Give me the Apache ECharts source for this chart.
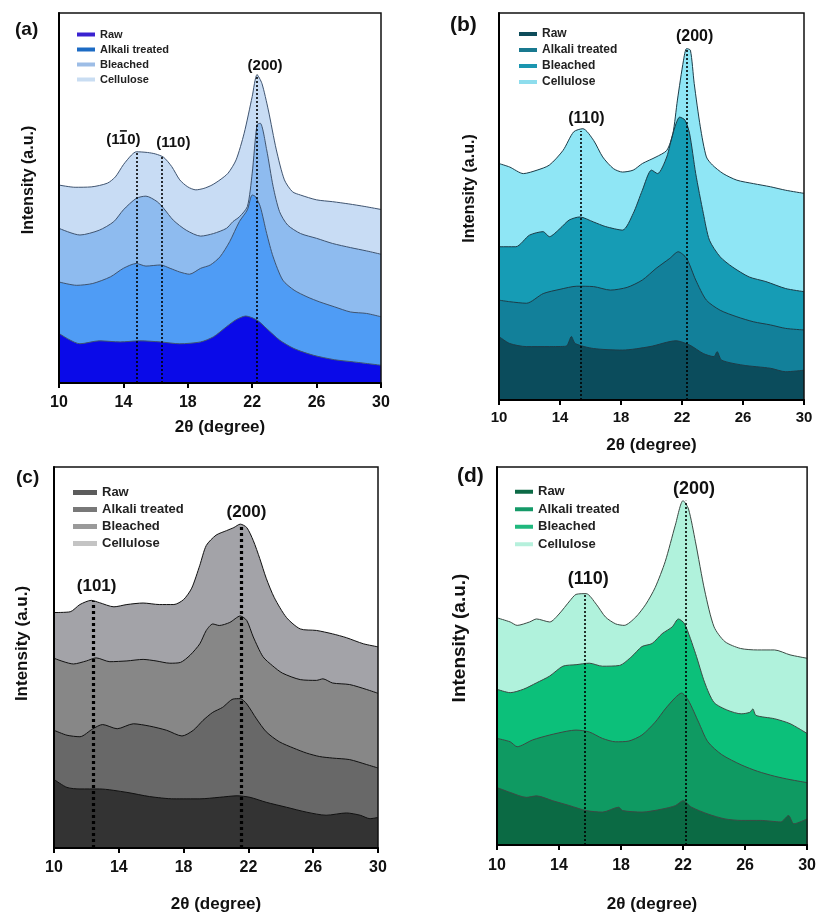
<!DOCTYPE html>
<html><head><meta charset="utf-8">
<script src="https://cdn.jsdelivr.net/npm/echarts@6/dist/echarts.min.js"></script>
<style>html,body{margin:0;padding:0;background:#fff}#c{width:819px;height:914px}</style>
</head><body><div id="c"></div><script>
// ---------------- DATA ----------------
const seriesNames = ['Raw', 'Alkali treated', 'Bleached', 'Cellulose'];
const xMin = 10, xMax = 30, xStep = 4;
const xName = '2θ (degree)';
const yName = 'Intensity (a.u.)';
const panelLetters = ['(a)', '(b)', '(c)', '(d)'];

// Panel (a)
const aRaw = [[10,13.4],[11.3,10.6],[12.5,11.4],[13.8,11.1],[15,11.4],[16.3,11.1],[17.5,10.6],[18.8,11.1],[19.6,12.5],[20.4,15.2],[21,17.1],[21.6,18.1],[22.3,17.0],[22.9,14.7],[23.7,11.6],[24.6,9.3],[25.8,7.5],[27.1,6.3],[28.3,5.7],[30,4.8]];
const aAlkali = [[10,27.3],[11.1,26.4],[12.1,26.9],[13.2,28.7],[14,31.0],[14.8,32.3],[15.4,31.6],[16.3,31.9],[16.9,31.0],[17.5,30.0],[18.1,29.4],[18.8,31.0],[19.4,31.9],[20,34.1],[20.6,38.2],[21.2,43.6],[21.7,46.8],[22.0,50.8],[22.2,50.4],[22.5,47.7],[22.9,40.4],[23.3,34.1],[23.9,27.8],[24.6,25.1],[25.4,23.3],[26.2,21.9],[27.1,20.6],[28.1,19.2],[29.1,18.8],[30,17.9]];
const aBleached = [[10,41.8],[11.3,40.0],[12.5,41.3],[13.4,43.6],[14,46.8],[14.8,49.9],[15.4,50.5],[16.1,49.0],[16.5,47.2],[17.1,44.0],[17.9,41.3],[18.8,39.7],[19.6,40.4],[20.4,41.8],[20.8,43.6],[21.2,44.9],[21.7,47.7],[22.0,56.7],[22.3,69.8],[22.5,70.2],[22.9,63.0],[23.3,53.1],[23.7,46.3],[24.2,42.7],[25,40.4],[26,39.1],[27,37.7],[28.1,36.6],[29.1,35.7],[30,34.8]];
const aCellulose = [[10,53.5],[11,52.9],[12,53.0],[13,54.0],[13.5,55.7],[14,59.0],[14.5,61.6],[14.8,62.5],[15.5,62.3],[16,61.9],[16.5,61.0],[17,58.5],[17.5,54.9],[18,53.0],[18.5,52.2],[19,52.6],[19.5,53.5],[20,54.9],[20.5,56.7],[21,60.3],[21.5,67.5],[22,77.4],[22.3,83.3],[22.6,81.0],[23,73.8],[23.5,63.0],[24,54.9],[24.5,51.7],[25,50.8],[26,49.5],[27,49.0],[28,48.4],[29,47.7],[30,46.9]];
const aPeakX = [14.8, 16.4, 22.3];
const aPeakTop = [62.5, 61.2, 83.3];
const aPeakLabels = ['(110)', '(110)', '(200)'];
const aLabelX = [14.0, 17.1, 22.8];
const aLabelY = [65.7, 64.8, 85.8];
const aBarred = [true, false, false];   // (1-bar 1 0): overline on the middle index

// Panel (b)
const bRaw = [[10,16.4],[10.7,14.6],[11.8,13.8],[13.3,13.8],[14.4,13.9],[14.75,16.4],[15.0,14.6],[16.2,13.3],[18.1,12.9],[19.9,13.8],[21.6,15.3],[22.5,14.2],[23.4,12.0],[24.1,11.2],[24.3,12.5],[24.6,10.3],[26,9.0],[27.8,8.2],[28.8,7.3],[30,7.7]];
const bAlkali = [[10,25.8],[10.7,25.4],[11.8,25.0],[12.9,27.5],[14,28.6],[15.1,29.4],[16.2,29.3],[17.3,28.4],[18.4,29.1],[19.4,31.0],[20.3,34.0],[21.2,36.6],[21.75,38.3],[22.3,36.6],[22.9,31.0],[23.6,25.8],[24.5,23.2],[25.6,21.5],[26.7,20.2],[27.8,19.4],[28.8,18.5],[30,18.1]];
const bBleached = [[10,39.6],[11.1,39.6],[12,42.6],[12.9,43.5],[13.3,42.2],[14,44.3],[14.6,46.5],[15.3,47.3],[16.2,46.0],[17,44.8],[18.1,43.9],[18.8,48.2],[19.4,54.2],[20.0,59.4],[20.4,58.5],[21.0,62.8],[21.4,68.8],[21.85,73.1],[22.2,72.3],[22.5,68.8],[22.9,58.5],[23.4,48.2],[23.8,41.3],[24.5,37.0],[25.3,34.4],[26.4,31.8],[27.5,30.6],[28.8,28.8],[30,28.0]];
const bCellulose = [[10,61.1],[10.7,60.2],[11.6,58.5],[12.5,59.4],[13.3,60.7],[14.2,64.5],[14.9,69.3],[15.5,70.1],[16.2,67.1],[16.8,62.8],[17.5,59.8],[18.1,58.9],[18.8,59.4],[19.4,61.1],[20.3,62.8],[21.0,64.5],[21.4,68.8],[21.7,77.5],[22.1,87.8],[22.3,90.8],[22.55,90.4],[22.8,81.8],[23.2,70.6],[23.6,62.8],[24.0,60.7],[24.7,58.5],[25.6,56.8],[26.7,55.9],[27.8,55.1],[28.8,54.2],[30,53.4]];
const bPeakX = [15.33, 22.3];
const bPeakTop = [69.5, 90.8];
const bPeakLabels = ['(110)', '(200)'];
const bLabelX = [15.73, 22.83];
const bLabelY = [72.7, 94.0];
const bBarred = [false, false];

// Panel (c)
const cRaw = [[10,18.0],[10.8,15.9],[11.6,15.5],[12.8,15.5],[14.5,14.6],[15.9,13.5],[17.4,12.9],[19,12.9],[20.2,13.3],[21.3,13.7],[22.1,13.3],[23.1,12.0],[24.35,10.7],[25.6,9.4],[26.8,8.6],[28.05,9.2],[28.9,8.6],[29.5,7.7],[30,8.0]];
const cAlkali = [[10,30.9],[10.8,29.6],[11.6,29.2],[12.4,31.3],[13,32.4],[13.9,31.3],[14.9,32.6],[15.9,32.0],[16.95,30.9],[17.9,29.4],[18.6,30.9],[19.2,33.5],[19.8,35.6],[20.4,36.9],[21.06,39.1],[21.5,39.2],[21.9,37.8],[22.5,33.9],[23.1,30.5],[23.9,27.9],[24.8,26.2],[25.6,24.9],[26.4,24.0],[27.2,23.6],[28.25,23.2],[29.3,21.9],[30,21.0]];
const cBleached = [[10,49.8],[11.2,48.3],[12,49.1],[12.6,49.9],[13.45,48.9],[14.5,49.1],[15.5,49.5],[16.3,49.1],[17.15,48.5],[17.8,48.7],[18.4,50.6],[19,53.6],[19.4,57.1],[19.8,58.8],[20.2,58.4],[20.85,59.2],[21.5,60.9],[21.9,59.7],[22.3,55.4],[22.9,50.2],[23.5,47.8],[24.1,45.9],[25.2,44.2],[26.2,44.0],[26.6,44.4],[27.2,43.3],[28.25,42.9],[29.3,41.6],[30,40.6]];
const cCellulose = [[10,61.8],[11,62.0],[11.6,63.9],[12.3,65.0],[12.8,64.4],[13.7,63.3],[14.5,63.9],[15.5,64.3],[16.5,63.9],[17.4,63.9],[18,65.2],[18.5,68.2],[19,74.2],[19.4,79.4],[20,82.1],[20.65,83.3],[21.1,84.1],[21.5,85.0],[21.9,84.1],[22.3,80.7],[22.7,76.0],[23.1,70.8],[23.6,65.7],[24.35,60.5],[25.2,57.5],[26.2,57.1],[27.2,56.2],[28.05,55.2],[29.1,53.6],[30,52.8]];
const cPeakX = [12.43, 21.53];
const cPeakTop = [64.8, 85.0];
const cPeakLabels = ['(101)', '(200)'];
const cLabelX = [12.63, 21.88];
const cLabelY = [68.7, 88.2];
const cBarred = [false, false];

// Panel (d)
const dRaw = [[10,15.2],[10.85,13.9],[11.9,12.6],[12.55,13.0],[13.6,11.7],[14.7,10.4],[15.75,9.1],[16.8,8.7],[17.85,10.0],[18.1,9.1],[19.35,8.7],[20.65,9.5],[21.5,10.4],[22.0,11.7],[22.55,10.0],[23.6,8.2],[24.7,6.9],[25.75,6.5],[27.0,6.5],[28.3,6.1],[28.8,7.8],[29.15,5.6],[30,6.9]];
const dAlkali = [[10,28.2],[10.85,27.3],[11.3,26.0],[12.3,27.8],[13.4,29.1],[14.5,30.1],[15.1,30.4],[15.95,29.9],[16.8,28.2],[17.65,27.3],[18.5,27.5],[19.35,29.1],[20.2,32.5],[20.85,36.0],[21.5,39.0],[21.9,40.2],[22.35,38.2],[23,32.5],[23.6,27.3],[24.5,23.9],[25.75,21.2],[26.8,19.5],[27.9,18.2],[28.9,17.3],[30,16.5]];
const dBleached = [[10,41.2],[10.85,40.3],[11.7,41.2],[12.55,42.9],[13.4,44.7],[14.25,47.3],[15.1,47.7],[15.95,48.1],[16.8,47.3],[17.9,47.5],[18.7,49.9],[19.35,52.5],[20,53.3],[20.65,55.9],[21.3,57.7],[21.7,59.8],[22.1,58.5],[22.8,50.7],[23.4,42.9],[24.0,37.7],[24.9,35.6],[25.75,34.7],[26.3,35.1],[26.5,36.0],[26.7,34.3],[27.9,33.4],[28.9,32.1],[30,29.5]];
const dCellulose = [[10,60.1],[10.85,59.0],[11.3,58.1],[12.1,59.0],[12.55,59.8],[13.4,59.0],[14.0,61.1],[14.7,64.6],[15.1,66.3],[15.75,66.5],[16.4,63.7],[17.0,60.3],[17.65,58.5],[18.2,58.1],[18.95,60.3],[19.6,63.7],[20.2,68.1],[20.85,75.0],[21.5,84.6],[22.0,91.1],[22.35,88.9],[22.8,80.2],[23.4,67.2],[24.0,57.7],[24.7,53.8],[25.7,52.0],[26.8,51.6],[27.9,51.6],[28.9,50.3],[30,49.4]];
const dPeakX = [15.68, 22.15];
const dPeakTop = [66.5, 91.1];
const dPeakLabels = ['(110)', '(200)'];
const dLabelX = [15.89, 22.7];
const dLabelY = [70.3, 94.1];
const dBarred = [false, false];

// ---------------- STYLE / LAYOUT ----------------
const panels = [
  { grid: {left: 59, top: 13, width: 322, height: 370},
    series: [aRaw, aAlkali, aBleached, aCellulose],
    peakX: aPeakX, peakTop: aPeakTop, labels: aPeakLabels, labelX: aLabelX, labelY: aLabelY, barred: aBarred,
    fills: ['#0a0ae8', '#4f9cf5', '#8ebbef', '#c8dcf4'],
    legendColors: ['#3a22d0', '#1c6bc4', '#9dbde6', '#c9ddf2'],
    outline: '#3f5470', dotWidth: 1.6, dotType: [2, 2],
    legend: {left: 72, top: 22, itemWidth: 18, itemHeight: 4, fontSize: 11, lineHeight: 15},
    tickFont: 16, tickMargin: 12, xNameFont: 17, xNameGap: 36,
    yNameFont: 16, yNameGap: 22, yNamePad: 36, peakFont: 15,
    title: {left: 10, top: 15, fontSize: 19} },
  { grid: {left: 499, top: 13, width: 305, height: 387},
    series: [bRaw, bAlkali, bBleached, bCellulose],
    peakX: bPeakX, peakTop: bPeakTop, labels: bPeakLabels, labelX: bLabelX, labelY: bLabelY, barred: bBarred,
    fills: ['#0b4c5c', '#12809a', '#169cb5', '#8fe6f5'],
    legendColors: ['#0e4c5a', '#19798f', '#1b96b0', '#8edded'],
    outline: '#1d3c48', dotWidth: 1.6, dotType: [2, 2],
    legend: {left: 514, top: 21, itemWidth: 18, itemHeight: 4, fontSize: 12, lineHeight: 16},
    tickFont: 15, tickMargin: 10, xNameFont: 17, xNameGap: 37,
    yNameFont: 16, yNameGap: 21, yNamePad: 36, peakFont: 16,
    title: {left: 445, top: 10, fontSize: 21} },
  { grid: {left: 54, top: 467, width: 324, height: 388},
    series: [cRaw, cAlkali, cBleached, cCellulose],
    peakX: cPeakX, peakTop: cPeakTop, labels: cPeakLabels, labelX: cLabelX, labelY: cLabelY, barred: cBarred,
    fills: ['#333333', '#686868', '#878787', '#a3a3a8'],
    legendColors: ['#5c5c5c', '#787878', '#9a9a9a', '#c4c4c4'],
    outline: '#111111', dotWidth: 3.2, dotType: [3, 3],
    legend: {left: 68, top: 479, itemWidth: 24, itemHeight: 5, fontSize: 13, lineHeight: 17},
    tickFont: 16, tickMargin: 12, xNameFont: 17, xNameGap: 48,
    yNameFont: 17, yNameGap: 23, yNamePad: 28, peakFont: 17,
    title: {left: 11, top: 463, fontSize: 19} },
  { grid: {left: 497, top: 467, width: 313, height: 385},
    series: [dRaw, dAlkali, dBleached, dCellulose],
    peakX: dPeakX, peakTop: dPeakTop, labels: dPeakLabels, labelX: dLabelX, labelY: dLabelY, barred: dBarred,
    fills: ['#0b6a44', '#0f9a62', '#0cc07a', '#b0f2dc'],
    legendColors: ['#0c6a46', '#159a68', '#20b87e', '#b6f0dc'],
    outline: '#3c4a44', dotWidth: 1.6, dotType: [2, 2],
    legend: {left: 510, top: 478, itemWidth: 18, itemHeight: 4, fontSize: 13, lineHeight: 17.5},
    tickFont: 16, tickMargin: 13, xNameFont: 17, xNameGap: 51,
    yNameFont: 19, yNameGap: 28, yNamePad: 36, peakFont: 18,
    title: {left: 452, top: 461, fontSize: 21} }
];

const FONT = 'Liberation Sans, Arial, sans-serif';
const option = { animation: false, backgroundColor: '#fff',
  title: [], legend: [], grid: [], xAxis: [], yAxis: [], series: [] };

panels.forEach((p, i) => {
  option.title.push({ text: panelLetters[i], left: p.title.left, top: p.title.top,
    textStyle: { fontFamily: FONT, fontWeight: 'bold', fontSize: p.title.fontSize, color: '#111' } });
  option.grid.push(Object.assign({ show: true, z: 10, borderColor: '#111', borderWidth: 1.5,
    backgroundColor: 'transparent' }, p.grid));
  option.xAxis.push({ gridIndex: i, type: 'value', min: xMin, max: xMax, interval: xStep, z: 11,
    axisLine: { onZero: false, lineStyle: { color: '#000', width: 2 } },
    axisTick: { show: true, length: 5, lineStyle: { color: '#000', width: 2 } },
    axisLabel: { fontFamily: FONT, fontWeight: 'bold', fontSize: p.tickFont, color: '#111', margin: p.tickMargin },
    splitLine: { show: false },
    name: xName, nameLocation: 'middle', nameGap: p.xNameGap,
    nameTextStyle: { fontFamily: FONT, fontWeight: 'bold', fontSize: p.xNameFont, color: '#111' } });
  option.yAxis.push({ gridIndex: i, type: 'value', min: 0, max: 100, z: 11,
    axisLine: { show: true, onZero: false, lineStyle: { color: '#000', width: 2 } },
    axisTick: { show: false }, axisLabel: { show: false }, splitLine: { show: false },
    name: yName, nameLocation: 'middle', nameGap: p.yNameGap,
    nameTextStyle: { fontFamily: FONT, fontWeight: 'bold', fontSize: p.yNameFont, color: '#111',
      padding: [0, 0, 0, p.yNamePad] } });
  option.legend.push({ left: p.legend.left, top: p.legend.top, orient: 'vertical', icon: 'rect',
    itemWidth: p.legend.itemWidth, itemHeight: p.legend.itemHeight, itemGap: 0, selectedMode: false,
    textStyle: { fontFamily: FONT, fontWeight: 'bold', fontSize: p.legend.fontSize, color: '#222',
      lineHeight: p.legend.lineHeight },
    data: seriesNames.map((n, k) => ({ name: n, itemStyle: { color: p.legendColors[k], borderWidth: 0 } })) });
  // draw from top (Cellulose) to bottom (Raw) so lower patterns overlay upper fills
  [3, 2, 1, 0].forEach(k => {
    const s = { type: 'line', name: seriesNames[k], xAxisIndex: i, yAxisIndex: i,
      data: p.series[k], showSymbol: false, symbol: 'none', smooth: 0.25, silent: true,
      itemStyle: { color: p.legendColors[k] },
      lineStyle: { color: p.outline, width: 1 },
      areaStyle: { color: p.fills[k], opacity: 1, origin: 'start' } };
    if (k === 0) {
      s.markLine = { silent: true, symbol: ['none', 'none'], label: { show: false },
        lineStyle: { type: p.dotType, color: '#000', width: p.dotWidth },
        data: p.peakX.map((x, j) => [{ coord: [x, 0] }, { coord: [x, p.peakTop[j]] }]) };
      const pts = [];
      p.labels.forEach((t, j) => {
        pts.push({ name: t, coord: [p.labelX[j], p.labelY[j]] });
        if (p.barred[j]) {
          // overline above the middle "1" of (1-bar 1 0)
          pts.push({ name: '', coord: [p.labelX[j], p.labelY[j]],
            label: { formatter: '{bar|}', offset: [0, -Math.round(p.peakFont * 0.62)],
              rich: { bar: { width: Math.round(p.peakFont * 0.45), height: 1.6, backgroundColor: '#111' } } } });
        }
      });
      s.markPoint = { silent: true, symbol: 'circle', symbolSize: 0,
        label: { show: true, position: 'inside', formatter: '{b}', fontFamily: FONT, fontWeight: 'bold',
          fontSize: p.peakFont, color: '#111' },
        data: pts };
    }
    option.series.push(s);
  });
});

const chart = echarts.init(document.getElementById('c'), null, { renderer: 'canvas' });
chart.setOption(option);
</script></body></html>
